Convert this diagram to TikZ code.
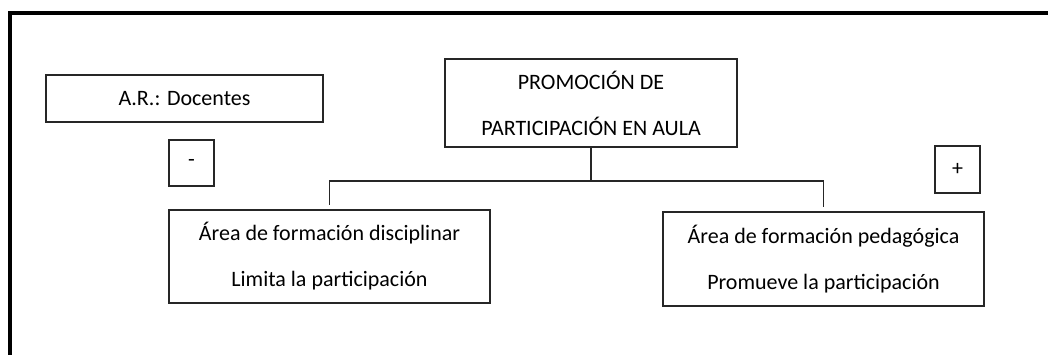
\documentclass[tikz,border=0pt]{standalone}
\usepackage{fontspec}
\setmainfont{Carlito}
\begin{document}
\begin{tikzpicture}[x=1pt,y=-1pt,
  box/.style={draw=black!85, line width=1.4pt, inner sep=0pt, align=center,
    font=\fontsize{22}{46}\selectfont},
  conn/.style={draw=black!85, line width=1.4pt, shorten >=4pt},
  frame/.style={draw=black, line width=4pt}]
\useasboundingbox (0,0) rectangle (1048,354);
\clip (0,0) rectangle (1048,354);
\draw[frame] (10,13) rectangle (1070,380);
\node[box, minimum width=277pt, minimum height=47pt] (ar) at (184.5,98.5) {A.R.: Docentes};
\node[box, minimum width=45pt, minimum height=46pt] (minus) at (191.5,163) {-};
\node[box, minimum width=45pt, minimum height=47pt] (plus) at (957.5,169.5) {+};
\node[box, minimum width=292pt, minimum height=88pt] (prom) at (591,103) {PROMOCIÓN DE\\PARTICIPACIÓN EN AULA};
\node[box, minimum width=321pt, minimum height=93pt] (left) at (329.5,256.5) {Área de formación disciplinar\\Limita la participación};
\node[box, minimum width=321pt, minimum height=94pt] (right) at (823.5,259) {Área de formación pedagógica\\Promueve la participación};
\coordinate (bar) at (0,181);
\draw[conn] (prom.south) -- (prom.south |- bar) -| (left.north);
\draw[conn] (prom.south) -- (prom.south |- bar) -| (right.north);
\end{tikzpicture}
\end{document}
